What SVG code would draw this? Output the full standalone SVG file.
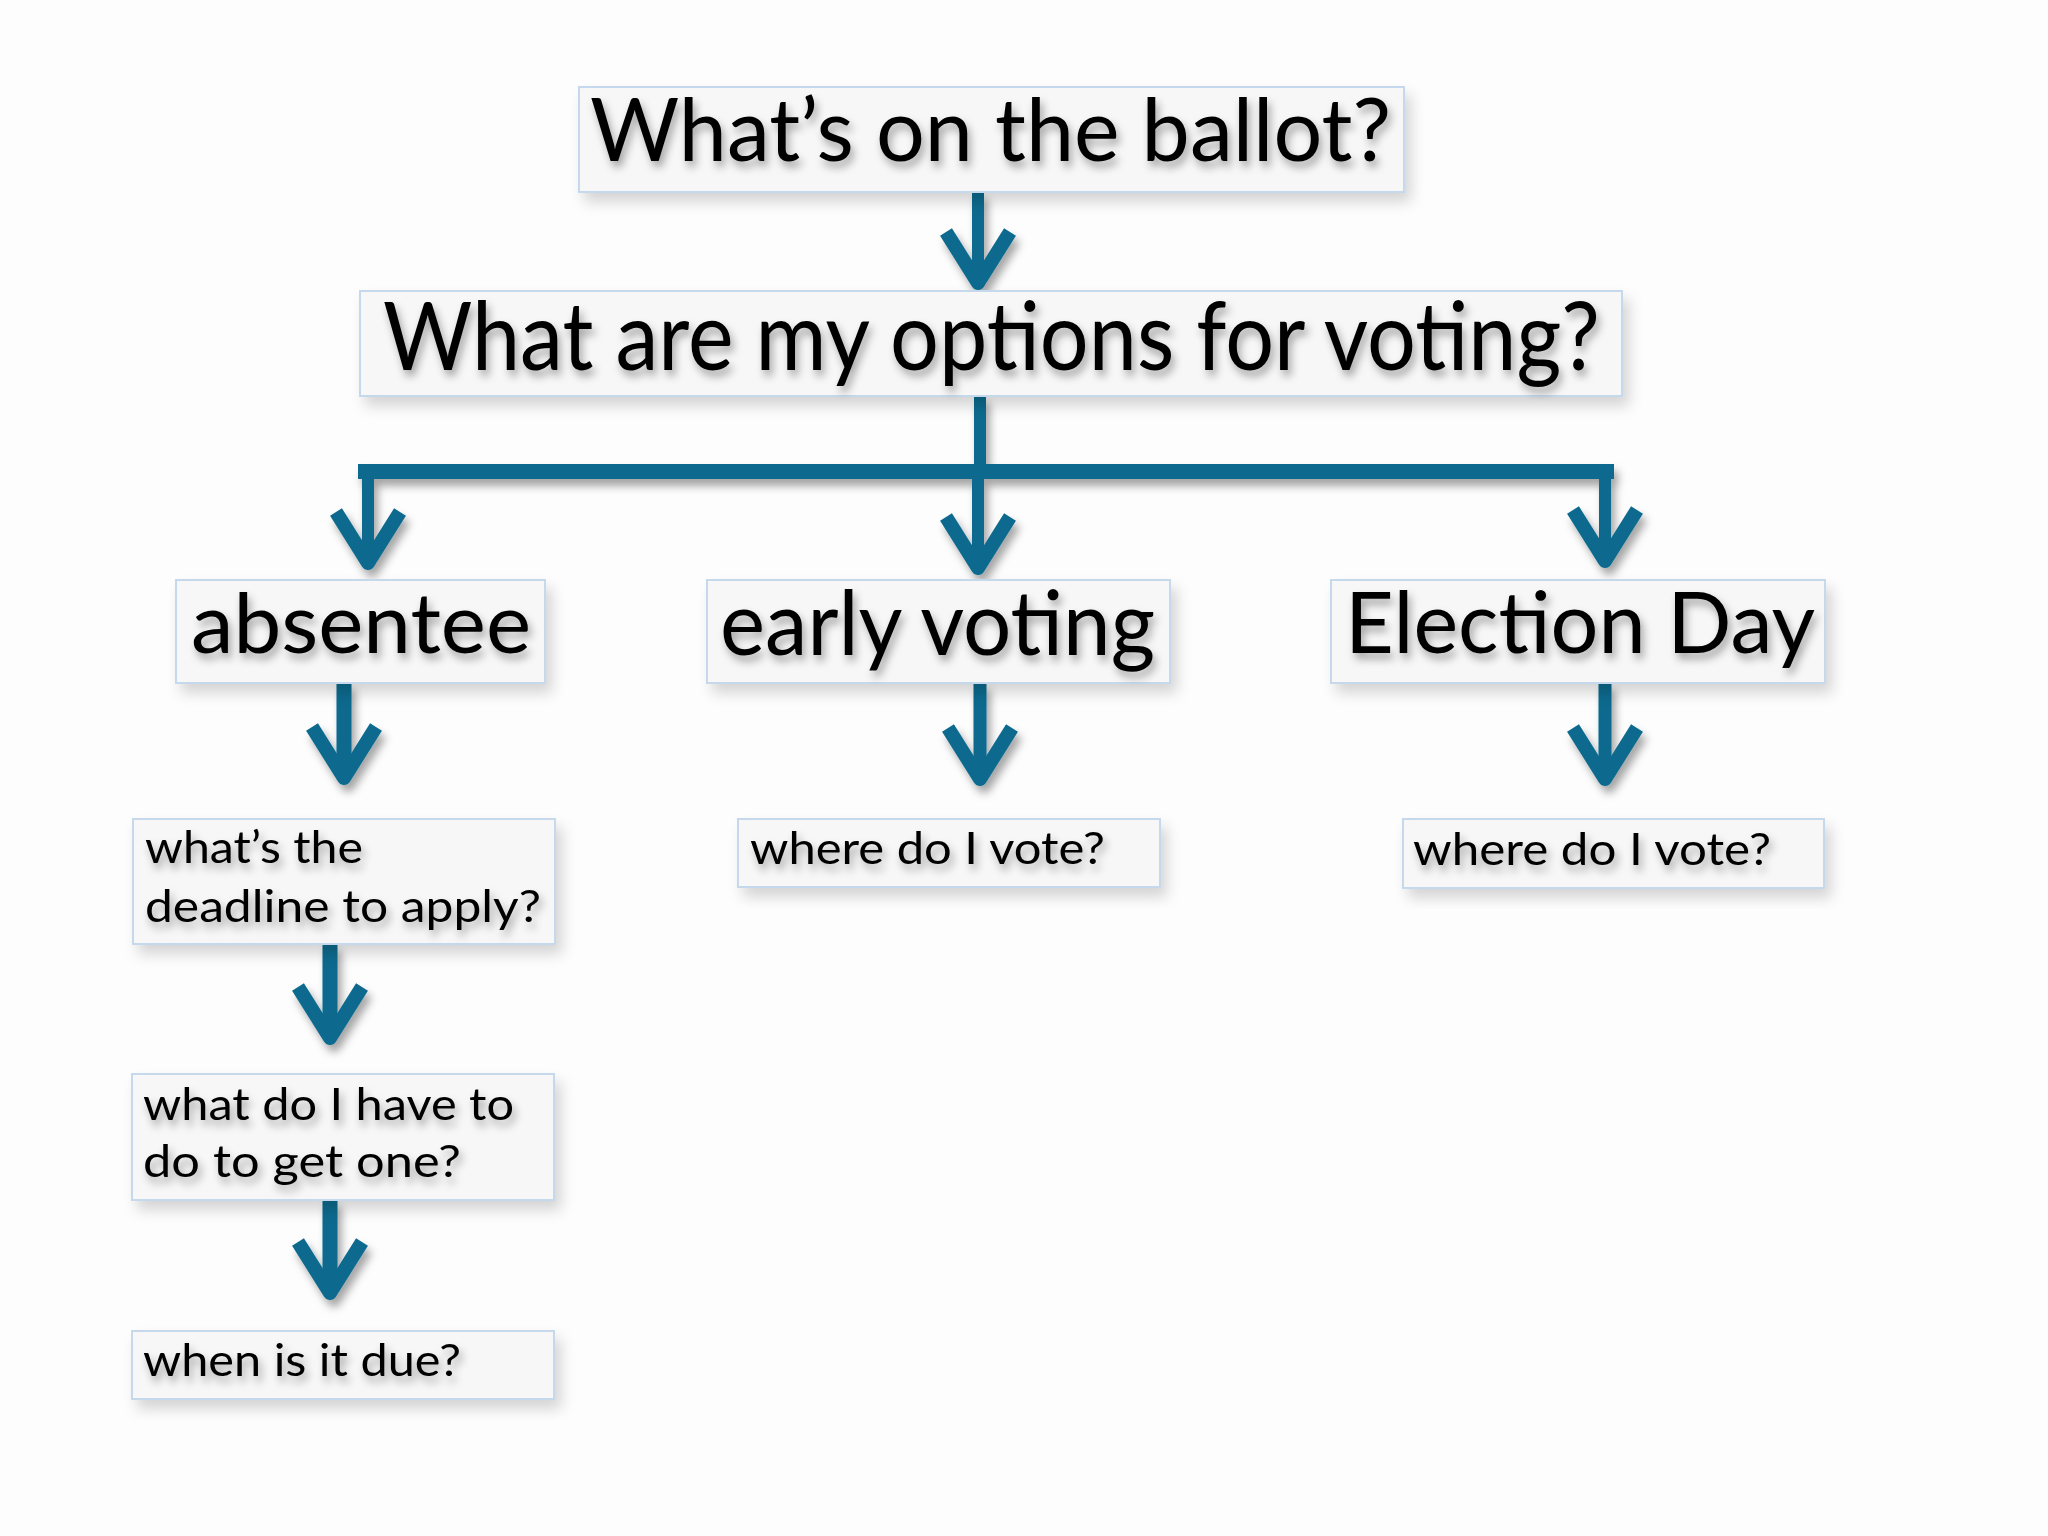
<svg xmlns="http://www.w3.org/2000/svg" xmlns:xlink="http://www.w3.org/1999/xlink" width="2048" height="1536" viewBox="0 0 2048 1536">
<defs>
<filter id="boxsh" x="-10%" y="-20%" width="125%" height="150%">
<feDropShadow dx="6" dy="9" stdDeviation="7" flood-color="#000" flood-opacity="0.16"/>
</filter>
<filter id="txtsh" x="-5%" y="-20%" width="115%" height="150%">
<feDropShadow dx="3" dy="6" stdDeviation="4" flood-color="#000" flood-opacity="0.35"/>
</filter>
<filter id="arsh" x="-30%" y="-20%" width="170%" height="150%">
<feDropShadow dx="4" dy="7" stdDeviation="4" flood-color="#000" flood-opacity="0.35"/>
</filter>
<path id="ah" class="head" d="M-32,-58 L0,-7 L32,-58"/>
<style>
.box{fill:#f7f7f8;stroke:#c6d9ec;stroke-width:2;filter:url(#boxsh)}
.t{font-family:Lato,"Open Sans","Liberation Sans",sans-serif;fill:#000;filter:url(#txtsh)}
.shaft{stroke:#0d6b8e;fill:none;stroke-linecap:butt}
.head{stroke:#0d6b8e;stroke-width:14;fill:none;stroke-linejoin:round;stroke-linecap:butt}
</style>
</defs>
<rect width="2048" height="1536" fill="#fdfdfd"/>

<g id="connectors" filter="url(#arsh)">
<line class="shaft" x1="978" y1="192" x2="978" y2="284" stroke-width="12"/>
<use xlink:href="#ah" x="978" y="290"/>
<line class="shaft" x1="980" y1="396" x2="980" y2="472" stroke-width="12"/>
<line class="shaft" x1="358" y1="471.5" x2="1614" y2="471.5" stroke-width="15"/>
<line class="shaft" x1="368" y1="471" x2="368" y2="563" stroke-width="12"/>
<use xlink:href="#ah" x="368" y="570"/>
<line class="shaft" x1="978" y1="471" x2="978" y2="568" stroke-width="12"/>
<use xlink:href="#ah" x="978" y="575"/>
<line class="shaft" x1="1605" y1="471" x2="1605" y2="561" stroke-width="12"/>
<use xlink:href="#ah" x="1605" y="568"/>
<line class="shaft" x1="344" y1="683" x2="344" y2="778" stroke-width="15"/>
<use xlink:href="#ah" x="344" y="785"/>
<line class="shaft" x1="980" y1="683" x2="980" y2="779" stroke-width="13"/>
<use xlink:href="#ah" x="980" y="786"/>
<line class="shaft" x1="1605" y1="683" x2="1605" y2="779" stroke-width="13"/>
<use xlink:href="#ah" x="1605" y="786"/>
<line class="shaft" x1="330" y1="944" x2="330" y2="1038" stroke-width="15"/>
<use xlink:href="#ah" x="330" y="1045"/>
<line class="shaft" x1="330" y1="1200" x2="330" y2="1293" stroke-width="15"/>
<use xlink:href="#ah" x="330" y="1300"/>
</g>

<g id="n-ballot">
<rect class="box" x="579" y="87" width="825" height="105"/>
<text class="t" x="590" y="161" font-size="88" textLength="801" lengthAdjust="spacingAndGlyphs">What’s on the ballot?</text>
</g>
<g id="n-options">
<rect class="box" x="360" y="291" width="1262" height="105"/>
<text class="t" x="383" y="370" font-size="95" textLength="1217" lengthAdjust="spacingAndGlyphs">What are my options for voting?</text>
</g>
<g id="n-absentee">
<rect class="box" x="176" y="580" width="369" height="103"/>
<text class="t" x="191" y="653" font-size="84" textLength="340" lengthAdjust="spacingAndGlyphs">absentee</text>
</g>
<g id="n-early">
<rect class="box" x="707" y="580" width="463" height="103"/>
<text class="t" x="720" y="655" font-size="90" textLength="435" lengthAdjust="spacingAndGlyphs">early voting</text>
</g>
<g id="n-election">
<rect class="box" x="1331" y="580" width="494" height="103"/>
<text class="t" x="1345" y="653" font-size="86" textLength="470" lengthAdjust="spacingAndGlyphs">Election Day</text>
</g>
<g id="n-deadline">
<rect class="box" x="133" y="819" width="422" height="125"/>
<text class="t" x="145" y="863" font-size="44" textLength="218" lengthAdjust="spacingAndGlyphs">what’s the</text>
<text class="t" x="145" y="922" font-size="44" textLength="396" lengthAdjust="spacingAndGlyphs">deadline to apply?</text>
</g>
<g id="n-getone">
<rect class="box" x="132" y="1074" width="422" height="126"/>
<text class="t" x="143" y="1120" font-size="44" textLength="371" lengthAdjust="spacingAndGlyphs">what do I have to</text>
<text class="t" x="143" y="1177" font-size="44" textLength="318" lengthAdjust="spacingAndGlyphs">do to get one?</text>
</g>
<g id="n-due">
<rect class="box" x="132" y="1331" width="422" height="68"/>
<text class="t" x="143" y="1376" font-size="44" textLength="318" lengthAdjust="spacingAndGlyphs">when is it due?</text>
</g>
<g id="n-where-early">
<rect class="box" x="738" y="819" width="422" height="68"/>
<text class="t" x="750" y="864" font-size="45" textLength="355" lengthAdjust="spacingAndGlyphs">where do I vote?</text>
</g>
<g id="n-where-ed">
<rect class="box" x="1403" y="819" width="421" height="69"/>
<text class="t" x="1413" y="865" font-size="45" textLength="358" lengthAdjust="spacingAndGlyphs">where do I vote?</text>
</g>
</svg>
